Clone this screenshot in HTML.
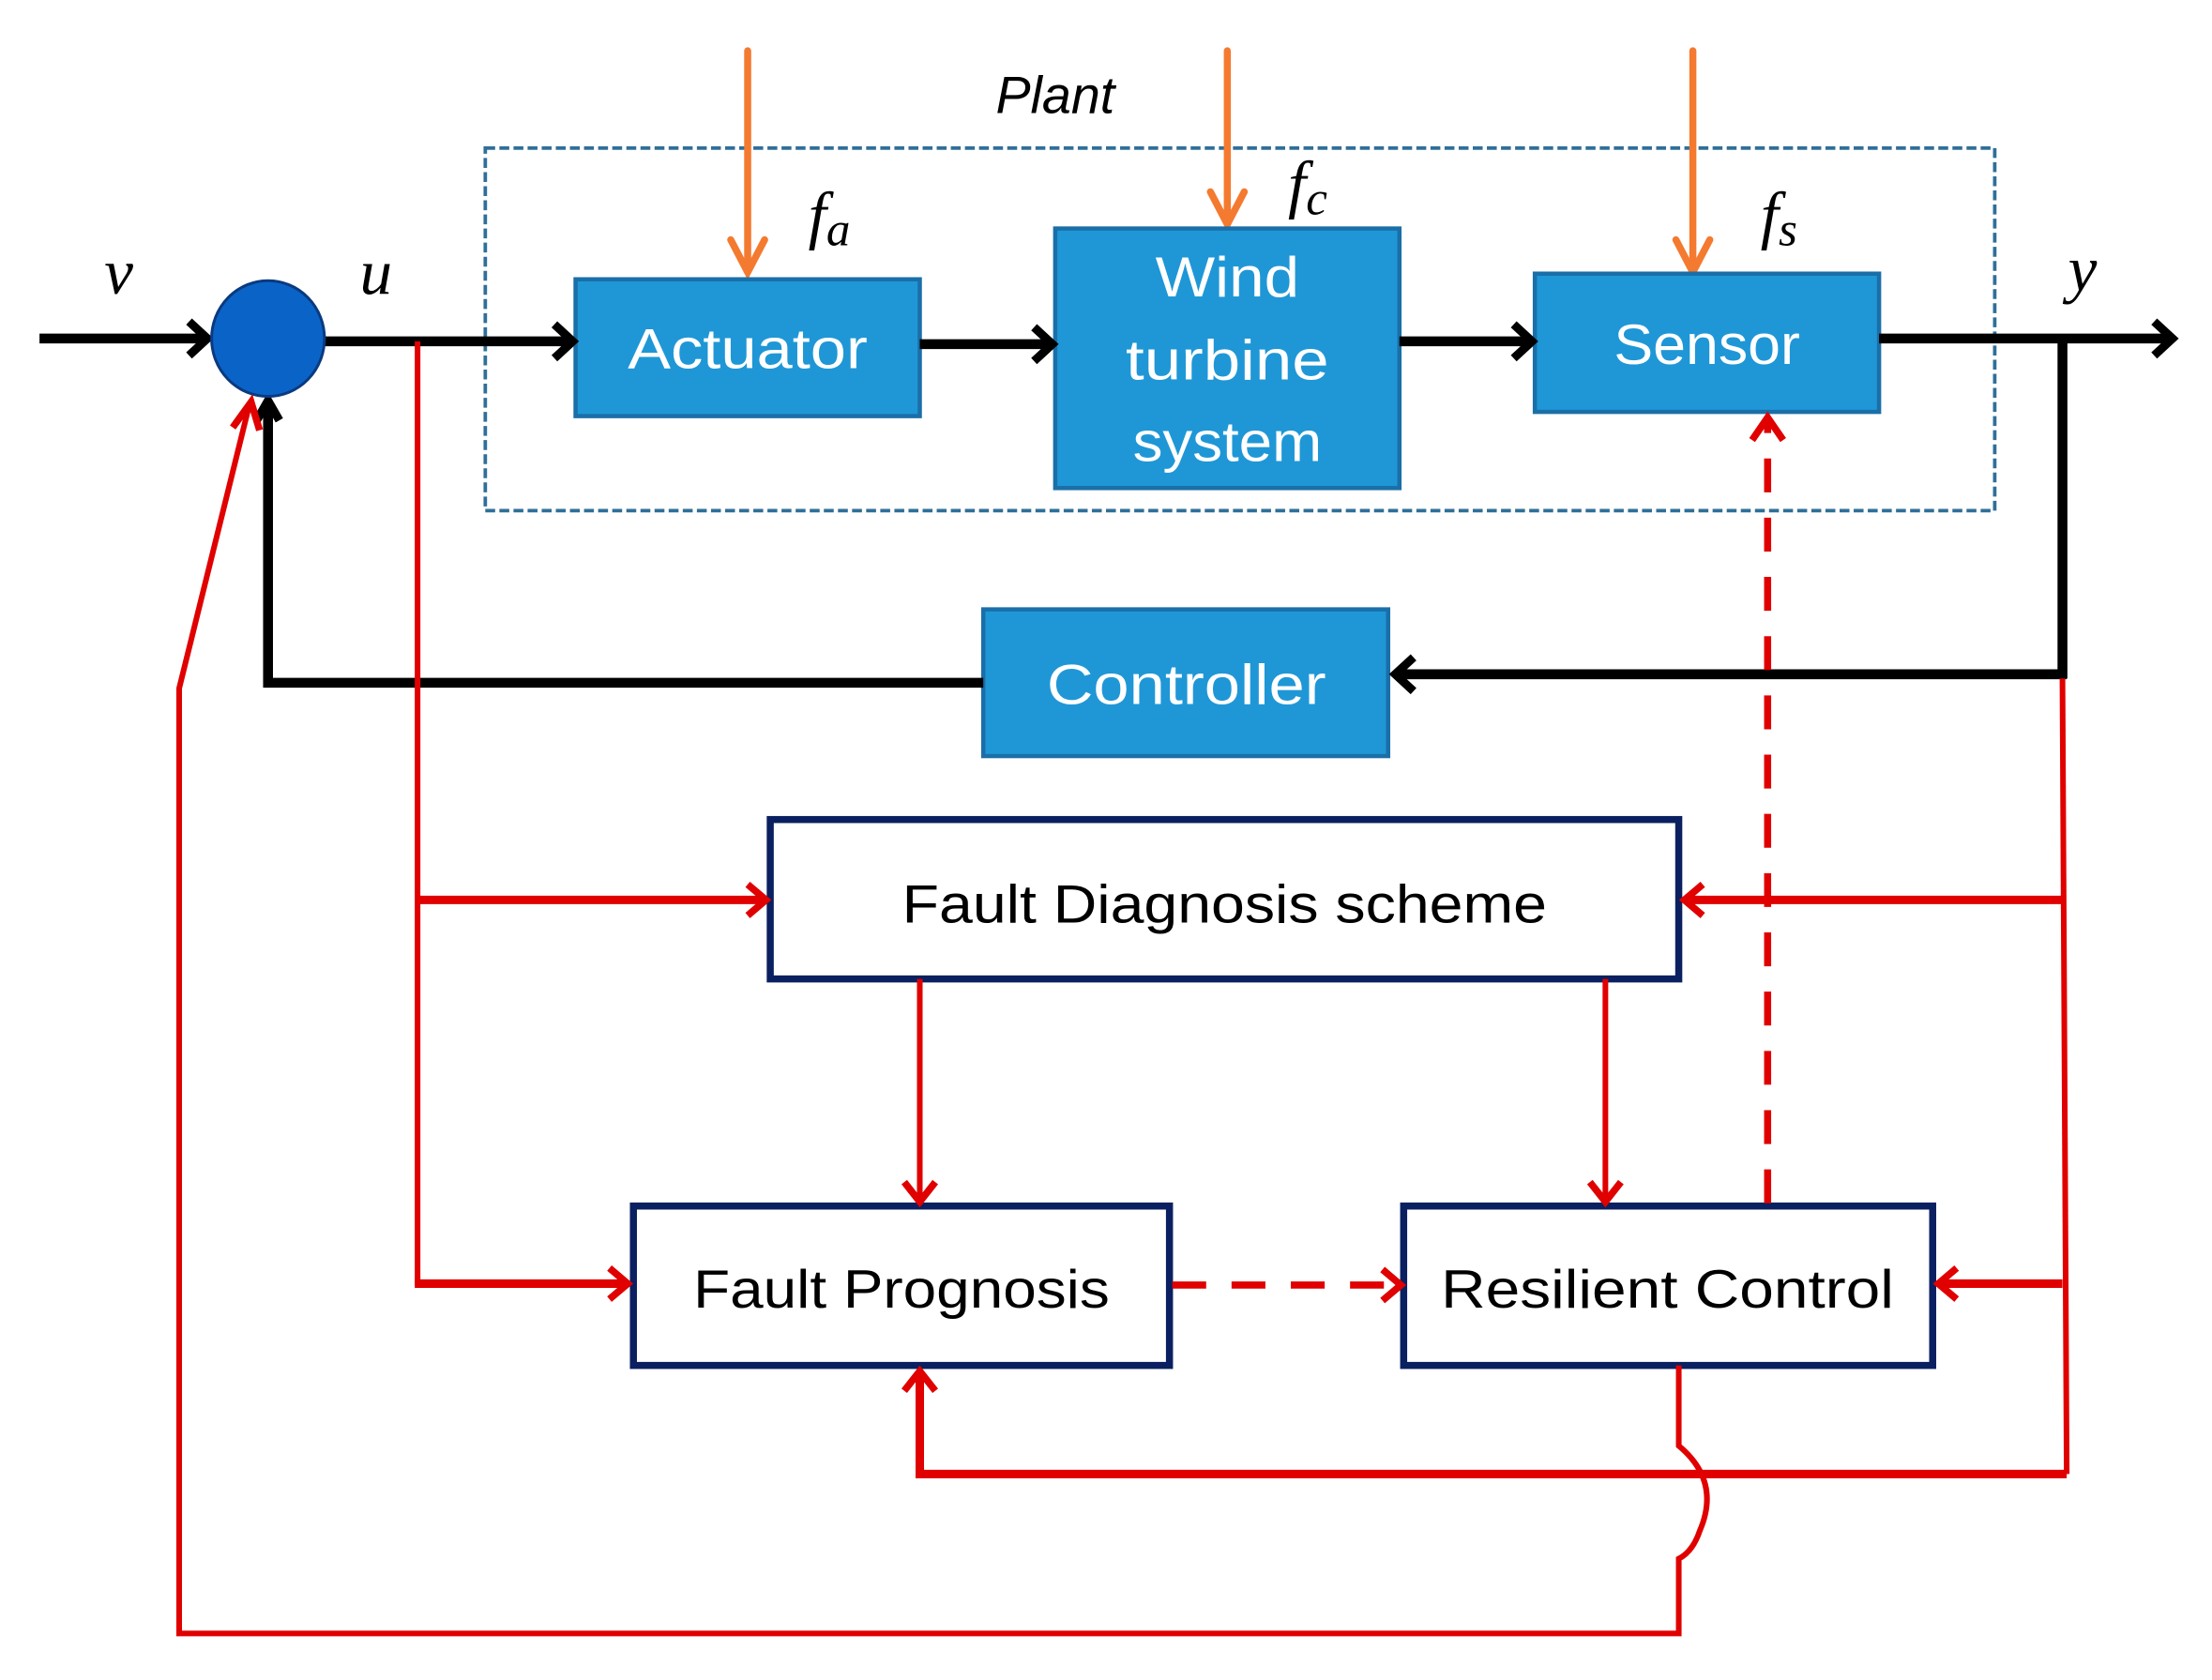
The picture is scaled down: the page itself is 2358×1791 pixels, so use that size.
<!DOCTYPE html>
<html><head><meta charset="utf-8"><style>html,body{margin:0;padding:0;background:#fff;}svg{display:block;}</style></head>
<body>
<svg width="2358" height="1791" viewBox="0 0 1568 1191" preserveAspectRatio="none" xmlns="http://www.w3.org/2000/svg">
<defs>
<style>
.bt{font-family:"Liberation Sans",sans-serif;font-size:40px;fill:#fff;text-anchor:middle;}
.wt{font-family:"Liberation Sans",sans-serif;font-size:38px;fill:#000;text-anchor:middle;}
.it{font-family:"Liberation Serif",serif;font-style:italic;font-size:46px;fill:#000;}
</style>
</defs>
<rect width="1568" height="1191" fill="#fff"/>
<rect x="344" y="105" width="1070" height="257" fill="none" stroke="#2f6f99" stroke-width="2.5" stroke-dasharray="7 3"/>
<text x="748" y="80" font-family="Liberation Sans,sans-serif" font-style="italic" font-size="37" text-anchor="middle">Plant</text>

<g stroke="#f47a30" stroke-width="5" fill="none" stroke-linecap="round">
<line x1="530" y1="36" x2="530" y2="192"/><polyline points="518,170 530,193 542,170"/>
<line x1="870" y1="36" x2="870" y2="158"/><polyline points="858,136 870,159 882,136"/>
<line x1="1200" y1="36" x2="1200" y2="192"/><polyline points="1188,170 1200,193 1212,170"/>
</g>
<text class="it" x="573" y="168">f<tspan font-size="34" dy="6">a</tspan></text>
<text class="it" x="913" y="146">f<tspan font-size="34" dy="6">c</tspan></text>
<text class="it" x="1248" y="168">f<tspan font-size="34" dy="6">s</tspan></text>
<text class="it" x="74" y="208">v</text>
<text class="it" x="255" y="208">u</text>
<text class="it" x="1466" y="206">y</text>

<g fill="#1f97d6" stroke="#1a6fa8" stroke-width="3">
<rect x="408" y="198" width="244" height="97"/>
<rect x="748" y="162" width="244" height="184"/>
<rect x="1088" y="194" width="244" height="98"/>
<rect x="697" y="432" width="287" height="104"/>
</g>
<text class="bt" x="530" y="261" textLength="170" lengthAdjust="spacingAndGlyphs">Actuator</text>
<text class="bt" x="870" y="210" textLength="102" lengthAdjust="spacingAndGlyphs">Wind</text>
<text class="bt" x="870" y="269" textLength="144" lengthAdjust="spacingAndGlyphs">turbine</text>
<text class="bt" x="870" y="327" textLength="134" lengthAdjust="spacingAndGlyphs">system</text>
<text class="bt" x="1210" y="258" textLength="132" lengthAdjust="spacingAndGlyphs">Sensor</text>
<text class="bt" x="841" y="499" textLength="198" lengthAdjust="spacingAndGlyphs">Controller</text>

<g stroke="#000" stroke-width="7" fill="none">
<line x1="28" y1="240" x2="145" y2="240"/>
<line x1="230" y1="242" x2="404" y2="242"/>
<line x1="652" y1="244" x2="744" y2="244"/>
<line x1="992" y1="242" x2="1084" y2="242"/>
<line x1="1332" y1="240" x2="1538" y2="240"/>
<line x1="1462" y1="240" x2="1462" y2="481"/>
<line x1="1465" y1="478" x2="990" y2="478"/>
<polyline points="697,484 190,484 190,288"/>
</g>
<g stroke="#000" stroke-width="6" fill="none">
<polyline points="134,228 147,240 134,252"/>
<polyline points="393,230 406,242 393,254"/>
<polyline points="733,232 746,244 733,256"/>
<polyline points="1073,230 1086,242 1073,254"/>
<polyline points="1527,228 1540,240 1527,252"/>
<polyline points="1002,466 989,478 1002,490"/>
<polyline points="182,298 190,284 198,298"/>
</g>
<ellipse cx="190" cy="240" rx="40" ry="41" fill="#0a64c8" stroke="#0a3a80" stroke-width="2"/>

<g fill="#fff" stroke="#0a2060" stroke-width="5">
<rect x="546" y="581" width="644" height="113"/>
<rect x="449" y="855" width="380" height="113"/>
<rect x="995" y="855" width="375" height="113"/>
</g>
<text class="wt" x="868" y="654" textLength="457" lengthAdjust="spacingAndGlyphs">Fault Diagnosis scheme</text>
<text class="wt" x="639" y="927" textLength="295" lengthAdjust="spacingAndGlyphs">Fault Prognosis</text>
<text class="wt" x="1182" y="927" textLength="321" lengthAdjust="spacingAndGlyphs">Resilient Control</text>

<g stroke="#e00000" stroke-width="4" fill="none">
<line x1="296" y1="242" x2="296" y2="910"/>
<line x1="652" y1="694" x2="652" y2="850"/>
<line x1="1138" y1="694" x2="1138" y2="850"/>
<line x1="1462" y1="481" x2="1465" y2="1045"/>
<path d="M1190,968 L1190,1025 Q1220,1050 1205,1085 Q1200,1100 1190,1105 L1190,1158 L127,1158 L127,488 L176,290"/>
</g>
<g stroke="#e00000" stroke-width="6" fill="none">
<line x1="296" y1="638" x2="540" y2="638"/>
<line x1="294" y1="910" x2="442" y2="910"/>
<line x1="1462" y1="638" x2="1196" y2="638"/>
<line x1="1462" y1="910" x2="1376" y2="910"/>
<polyline points="1465,1045 652,1045 652,975"/>
</g>
<g stroke="#e00000" stroke-width="5" fill="none">
<polyline points="530,627 543,638 530,649"/>
<polyline points="432,899 445,910 432,921"/>
<polyline points="641,838 652,852 663,838"/>
<polyline points="1127,838 1138,852 1149,838"/>
<polyline points="1207,627 1194,638 1207,649"/>
<polyline points="1387,899 1374,910 1387,921"/>
<polyline points="641,986 652,972 663,986"/>
<polyline points="165,303 178,285 184,305"/>
<polyline points="980,900 993,911 980,922"/>
<polyline points="1242,312 1253,296 1264,312"/>
</g>
<g stroke="#e00000" stroke-width="5" fill="none" stroke-dasharray="24 18">
<line x1="831" y1="911" x2="990" y2="911"/>
<line x1="1253" y1="853" x2="1253" y2="298"/>
</g>
</svg>
</body></html>
